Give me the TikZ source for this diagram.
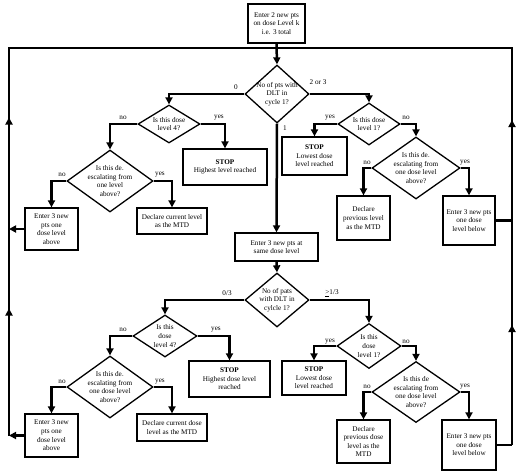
\documentclass[tikz,border=0pt]{standalone}
\usepackage{fontspec}
\setmainfont{Liberation Serif}
\usetikzlibrary{shapes.geometric,arrows.meta,decorations.markings}
\begin{document}
\begin{tikzpicture}[x=1pt,y=-1pt,
  txt/.style={font=\fontsize{7.2}{8.6}\selectfont, align=center, inner sep=0pt},
  box/.style={txt, draw, line width=1.3pt, rectangle},
  dia/.style={draw, diamond, line width=1.3pt, inner sep=0pt},
  conn/.style={line width=2.5pt, -{Triangle[length=7pt,width=7pt]}},
  wire/.style={line width=2.5pt},
  lab/.style={font=\fontsize{7.2}{8}\selectfont, inner sep=0pt},
]
\useasboundingbox (0,0) rectangle (520,474);

% ---------- top ----------
\node[box, minimum width=57pt, minimum height=39pt] (top) at (276.5,23.5) {Enter 2 new pts\\on dose Level k\\i.e. 3 total};
\node[dia, minimum width=64pt, minimum height=58pt] (d1) at (277,94) {};
\node[txt] (d1t) at (d1) {No of pts with\\DLT in\\cycle 1?};

% ---------- first left branch ----------
\node[dia, minimum width=62pt, minimum height=38pt] (d2) at (169,124) {};
\node[txt] (d2t) at (d2) {Is this dose\\level 4?};
\node[box, minimum width=84pt, minimum height=36pt] (s1) at (225,167) {\textbf{STOP}\\Highest level reached};
\node[dia, minimum width=86pt, minimum height=62pt] (d3) at (110,181) {};
\node[txt] (d3t) at (d3) {Is this de\textsubscript{-}\\escalating from\\one level\\above?};
\node[box, minimum width=53pt, minimum height=42pt] (u1) at (51.5,229) {Enter 3 new\\pts one\\dose level\\above};
\node[box, minimum width=70pt, minimum height=26pt] (c1) at (172,221) {Declare current level\\as the MTD};

% ---------- first right branch ----------
\node[dia, minimum width=62pt, minimum height=42pt] (d4) at (369,124) {};
\node[txt] (d4t) at (d4) {Is this dose\\level 1?};
\node[box, minimum width=65pt, minimum height=38pt] (s2) at (314.5,156) {\textbf{STOP}\\Lowest dose\\level reached};
\node[dia, minimum width=88pt, minimum height=62pt] (d5) at (416,168) {};
\node[txt] (d5t) at (d5) {Is this de\textsubscript{-}\\escalating from\\one dose level\\above?};
\node[box, minimum width=53pt, minimum height=44pt] (p1) at (363.5,218) {Declare\\previous level\\as the MTD};
\node[box, minimum width=52pt, minimum height=49pt] (w1) at (469,220.5) {Enter 3 new pts\\one dose\\level below};

% ---------- middle ----------
\node[box, minimum width=83pt, minimum height=28pt] (same) at (276.5,247) {Enter 3 new pts at\\same dose level};
\node[dia, minimum width=64pt, minimum height=54pt] (d6) at (277,300) {};
\node[txt] (d6t) at (d6) {No of pats\\with DLT in\\cylcle 1?};

% ---------- second left branch ----------
\node[dia, minimum width=64pt, minimum height=42pt] (d7) at (165,336) {};
\node[txt] (d7t) at (d7) {Is this\\dose\\level 4?};
\node[box, minimum width=81pt, minimum height=36pt] (s3) at (229.5,379) {\textbf{STOP}\\Highest dose level\\reached};
\node[dia, minimum width=86pt, minimum height=62pt] (d8) at (110,387) {};
\node[txt] (d8t) at (d8) {Is this de\textsubscript{-}\\escalating from\\one dose level\\above?};
\node[box, minimum width=53pt, minimum height=43pt] (u2) at (51.5,435.5) {Enter 3 new\\pts one\\dose level\\above};
\node[box, minimum width=70pt, minimum height=27pt] (c2) at (172,427.5) {Declare current dose\\level as the MTD};

% ---------- second right branch ----------
\node[dia, minimum width=64pt, minimum height=45pt] (d9) at (369,346) {};
\node[txt] (d9t) at (d9) {Is this\\dose\\level 1?};
\node[box, minimum width=64pt, minimum height=34pt] (s4) at (314,378) {\textbf{STOP}\\Lowest dose\\level reached};
\node[dia, minimum width=88pt, minimum height=61pt] (d10) at (416,392) {};
\node[txt] (d10t) at (d10) {Is this de\\escalating from\\one dose level\\above?};
\node[box, minimum width=53pt, minimum height=43pt] (p2) at (363.5,441.5) {Declare\\previous dose\\level as the\\MTD};
\node[box, minimum width=54pt, minimum height=50pt] (w2) at (469,445) {Enter 3 new pts\\one dose\\level below};

% ---------- loop coordinates ----------
\coordinate (J) at (277,48);
\coordinate (LT) at (9,48);
\coordinate (L1) at (9,229);
\coordinate (L2) at (9,435.5);
\coordinate (RT) at (512,48);
\coordinate (R1) at (512,220.5);
\coordinate (R2) at (512,445);

% ---------- connectors ----------
\draw[conn] (top.south) -- (d1.north);
\draw[conn] (d1.west) -| (d2.north);
\draw[conn] (d2.east) -| (s1.north);
\draw[conn] (d2.west) -| (d3.north);
\draw[conn] (d3.west) -| (u1.north);
\draw[conn] (d3.east) -| (c1.north);
\draw[conn] (d1.east) -| (d4.north);
\draw[conn] (d4.west) -| (s2.north);
\draw[conn] (d4.east) -| (d5.north);
\draw[conn] (d5.west) -| (p1.north);
\draw[conn] (d5.east) -| (w1.north);
\draw[conn] (d1.south) -- (same.north);
\draw[conn] (same.south) -- (d6.north);
\draw[conn] (d6.west) -| (d7.north);
\draw[conn] (d7.east) -| (s3.north);
\draw[conn] (d7.west) -| (d8.north);
\draw[conn] (d8.west) -| (u2.north);
\draw[conn] (d8.east) -| (c2.north);
\draw[conn] (d6.east) -| (d9.north);
\draw[conn] (d9.west) -| (s4.north);
\draw[conn] (d9.east) -| (d10.north);
\draw[conn] (d10.west) -| (p2.north);
\draw[conn] (d10.east) -| (w2.north);

\draw[conn] (u1.west) -- (L1);
\draw[conn] (u2.west) -- (L2);
\draw[wire] (w1.east) -- (R1);
\draw[wire] (w2.east) -- (R2);

\draw[wire, line join=miter, postaction={decorate}, decoration={markings,
  mark=at position 127pt with {\arrow{Triangle[length=7pt,width=7pt]}},
  mark=at position 318pt with {\arrow{Triangle[length=7pt,width=7pt]}}}]
  (L2) -- (LT) -- (J);
\draw[wire, line join=miter, postaction={decorate}, decoration={markings,
  mark=at position 120pt with {\arrow{Triangle[length=7pt,width=7pt]}},
  mark=at position 325pt with {\arrow{Triangle[length=7pt,width=7pt]}}}]
  (R2) -- (RT) -- (J);

% ---------- labels ----------
\node[lab] (l0) at (236,87) {0};
\node[lab] (l23) at (318,82) {2 or 3};
\node[lab] (l1) at (285,128) {1};
\node[lab] (n2) at (123,118) {no};
\node[lab] (y2) at (219,118) {yes};
\node[lab] (n3) at (62,175) {no};
\node[lab] (y3) at (160,175) {yes};
\node[lab] (y4) at (330,118) {yes};
\node[lab] (n4) at (406,118) {no};
\node[lab] (n5) at (367,163) {no};
\node[lab] (y5) at (465,163) {yes};
\node[lab] (l03) at (227,293) {0/3};
\node[lab] (lge) at (332,293) {\underline{\textgreater}1/3};
\node[lab] (n7) at (123,330) {no};
\node[lab] (y7) at (216,330) {yes};
\node[lab] (n8) at (62,382) {no};
\node[lab] (y8) at (160,382) {yes};
\node[lab] (y9) at (330,342) {yes};
\node[lab] (n9) at (406,342) {no};
\node[lab] (n10) at (367,387) {no};
\node[lab] (y10) at (465,387) {yes};
\end{tikzpicture}
\end{document}
